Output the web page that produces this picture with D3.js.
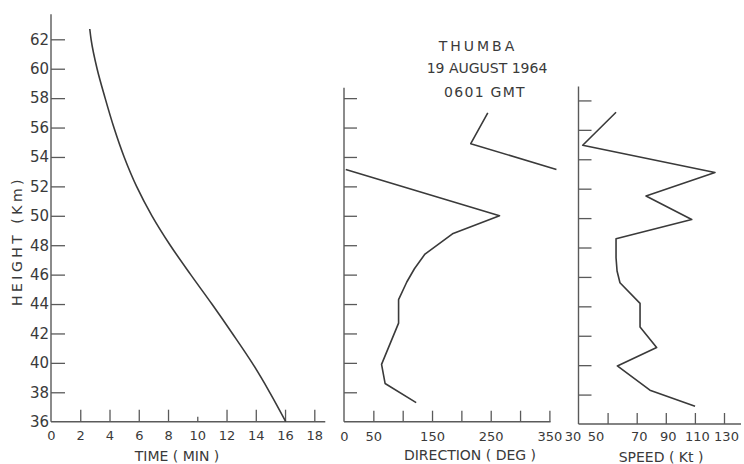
<!DOCTYPE html>
<html>
<head>
<meta charset="utf-8">
<script src="https://cdnjs.cloudflare.com/ajax/libs/d3/7.8.5/d3.min.js"></script>
<style>
    body { margin: 0; background: #fff; }
    svg text { font-family: "DejaVu Sans", sans-serif; fill: #3a3a3a; }
    .axis text { fill: #3a3a3a; }
</style>
</head>
<body>
<div id="graphDiv"></div>
<script>
// rocket descent : height (km) against elapsed time (min)
var timeHeight = [62.7, 62, 60, 58, 56, 54, 52, 50, 48, 46, 44, 42, 40, 38, 36];
var timeMinutes = [2.65, 2.74, 3.15, 3.7, 4.3, 5.0, 5.85, 6.9, 8.15, 9.55, 11.0, 12.4, 13.75, 14.95, 16.05];

// wind direction (deg), drawn in two pieces because it wraps past 360
var dirHeightTop = [57.0, 54.9, 53.15];
var dirDegTop = [245, 216, 362];
var dirHeightLow = [53.15, 50.0, 48.8, 47.4, 46.4, 45.5, 44.3, 42.7, 39.9, 38.6, 37.3];
var dirDegLow = [3, 265, 186, 138, 120, 107, 93, 93, 64, 70, 123];

// wind speed (knots)
var speedHeight = [57.2, 54.95, 53.1, 51.5, 49.9, 48.6, 47.3, 46.4, 45.6, 44.2, 42.6, 41.2, 39.95, 38.3, 37.2];
var speedKt = [55.8, 32.9, 123.8, 76.4, 107.8, 55.8, 55.8, 56.5, 58.5, 72.3, 72.3, 83.7, 56.7, 79.1, 110.1];

// tick values / labels
var heightTicks = [36, 38, 40, 42, 44, 46, 48, 50, 52, 54, 56, 58, 60, 62];
var timeTicks = [0, 2, 4, 6, 8, 10, 12, 14, 16, 18];
var dirTicks = [0, 50, 100, 150, 200, 250, 300, 350];
var dirLabels = [0, 50, 150, 250, 350];
var speedTicks = [30, 50, 70, 90, 110, 130];

var titleLines = ["THUMBA", "19 AUGUST 1964", "0601 GMT"];

function zip(a, b) {
    return a.map(function (v, i) { return {x: v, h: b[i]}; });
}

var W = 744, H = 464;
var ink = "#3a3a3a", axisInk = "#5a5a5a";

var svg = d3.select("#graphDiv").append("svg")
    .attr("width", W)
    .attr("height", H);

// shared height scale (right panel sits ~2px lower in the original)
var yScale = d3.scaleLinear().domain([36, 62]).range([421.7, 39.3]);
var yScaleR = d3.scaleLinear().domain([36, 62]).range([424, 41.6]);

var xTime = d3.scaleLinear().domain([0, 18]).range([51, 314.3]);
var xDir = d3.scaleLinear().domain([0, 350]).range([344, 549.4]);
var xSpeed = d3.scaleLinear().domain([30, 130]).range([578.5, 724]);

function styleAxis(g) {
    g.attr("color", axisInk);
    g.selectAll("line").attr("stroke-width", 1.3);
    g.select(".domain").remove();
}

function vline(x, y1, y2) {
    svg.append("line")
        .attr("x1", x).attr("x2", x).attr("y1", y1).attr("y2", y2)
        .attr("stroke", axisInk).attr("stroke-width", 1.4);
}
function hline(y, x1, x2) {
    svg.append("line")
        .attr("x1", x1).attr("x2", x2).attr("y1", y).attr("y2", y)
        .attr("stroke", axisInk).attr("stroke-width", 1.4);
}

/* ---------- panel 1 : time ---------- */
vline(xTime(0), yScale(63.7), yScale(36));
hline(yScale(36), xTime(0), xTime(18.75));

svg.append("g")
    .attr("class", "y axis")
    .attr("transform", "translate(" + xTime(0) + ",0)")
    .call(d3.axisLeft(yScale).tickValues(heightTicks).tickSize(-14).tickSizeOuter(0).tickPadding(2))
    .call(styleAxis)
    .call(function (g) {
        g.selectAll("text").style("font-size", "15px");
        g.selectAll(".tick").filter(function (d) { return d === 36; }).select("line").remove();
    });

svg.append("g")
    .attr("class", "x axis")
    .attr("transform", "translate(0," + yScale(36) + ")")
    .call(d3.axisBottom(xTime).tickValues(timeTicks).tickSize(-12).tickSizeOuter(0).tickPadding(6))
    .call(styleAxis)
    .call(function (g) {
        g.selectAll("text").style("font-size", "13px").attr("dy", "0.95em");
        g.selectAll(".tick").filter(function (d) { return d === 0; }).select("line").remove();
        g.selectAll(".tick").filter(function (d) { return d === 10; }).select("line").attr("y2", -5);
    });

var timeLine = d3.line()
    .curve(d3.curveMonotoneY)
    .x(function (d) { return xTime(d.x); })
    .y(function (d) { return yScale(d.h); });

svg.append("path")
    .attr("d", timeLine(zip(timeMinutes, timeHeight)))
    .attr("fill", "none")
    .attr("stroke", ink)
    .attr("stroke-width", 1.6);

/* ---------- panel 2 : direction ---------- */
vline(xDir(0), yScale(58.7), yScale(36));
hline(yScale(36), xDir(0), xDir(352));

svg.append("g")
    .attr("class", "y axis")
    .attr("transform", "translate(" + xDir(0) + ",0)")
    .call(d3.axisRight(yScale).tickValues(heightTicks.filter(function (v) { return v > 36 && v < 59; }))
        .tickSize(13).tickSizeOuter(0).tickFormat(""))
    .call(styleAxis);

svg.append("g")
    .attr("class", "x axis")
    .attr("transform", "translate(0," + yScale(36) + ")")
    .call(d3.axisBottom(xDir).tickValues(dirTicks).tickSize(-11).tickSizeOuter(0).tickPadding(7)
        .tickFormat(function (d) { return dirLabels.indexOf(d) >= 0 ? d : ""; }))
    .call(styleAxis)
    .call(function (g) {
        g.selectAll("text").style("font-size", "13px").attr("dy", "0.95em");
        g.selectAll(".tick").filter(function (d) { return d === 0; }).select("line").remove();
    });

var dirLine = d3.line()
    .x(function (d) { return xDir(d.x); })
    .y(function (d) { return yScale(d.h); });

[zip(dirDegTop, dirHeightTop), zip(dirDegLow, dirHeightLow)].forEach(function (seg) {
    svg.append("path")
        .attr("d", dirLine(seg))
        .attr("fill", "none")
        .attr("stroke", ink)
        .attr("stroke-width", 1.6)
        .attr("stroke-linejoin", "round");
});

/* ---------- panel 3 : speed ---------- */
vline(xSpeed(30), yScaleR(58.95), yScaleR(36));
hline(yScaleR(36), xSpeed(30), 741);

svg.append("g")
    .attr("class", "y axis")
    .attr("transform", "translate(" + xSpeed(30) + ",0)")
    .call(d3.axisRight(yScaleR).tickValues(heightTicks.filter(function (v) { return v > 36 && v < 59; }))
        .tickSize(13).tickSizeOuter(0).tickFormat(""))
    .call(styleAxis);

// the lettering of 30 and 50 sits left of its tick in the original
var speedLabelShift = {30: -6, 50: -12};

svg.append("g")
    .attr("class", "x axis")
    .attr("transform", "translate(0," + yScaleR(36) + ")")
    .call(d3.axisBottom(xSpeed).tickValues(speedTicks).tickSize(-11).tickSizeOuter(0).tickPadding(5))
    .call(styleAxis)
    .call(function (g) {
        g.selectAll("text").style("font-size", "13px").attr("dy", "0.95em")
            .attr("dx", function (d) { return speedLabelShift[d] || 2; });
        g.selectAll(".tick").filter(function (d) { return d === 30; }).select("line").remove();
    });

var speedLine = d3.line()
    .x(function (d) { return xSpeed(d.x); })
    .y(function (d) { return yScaleR(d.h); });

svg.append("path")
    .attr("d", speedLine(zip(speedKt, speedHeight)))
    .attr("fill", "none")
    .attr("stroke", ink)
    .attr("stroke-width", 1.6)
    .attr("stroke-linejoin", "round");

/* ---------- labels ---------- */
svg.append("text")
    .attr("text-anchor", "middle")
    .attr("transform", "translate(22,241) rotate(-90)")
    .style("font-size", "14px")
    .style("letter-spacing", "3.5px")
    .text("HEIGHT (Km)");

svg.append("text")
    .attr("x", 177).attr("y", 461)
    .attr("text-anchor", "middle")
    .style("font-size", "14px")
    .text("TIME ( MIN )");

svg.append("text")
    .attr("x", 470).attr("y", 460)
    .attr("text-anchor", "middle")
    .style("font-size", "14px")
    .text("DIRECTION ( DEG )");

svg.append("text")
    .attr("x", 661).attr("y", 462)
    .attr("text-anchor", "middle")
    .style("font-size", "14px")
    .text("SPEED ( Kt )");

// title block
var titleY = [51, 73, 97],
    titleX = [478, 487, 485],
    titleSpacing = ["3px", "0px", "1.3px"];
titleLines.forEach(function (t, i) {
    svg.append("text")
        .attr("x", titleX[i]).attr("y", titleY[i])
        .attr("text-anchor", "middle")
        .style("font-size", "14px")
        .style("letter-spacing", titleSpacing[i])
        .text(t);
});
</script>
</body>
</html>
